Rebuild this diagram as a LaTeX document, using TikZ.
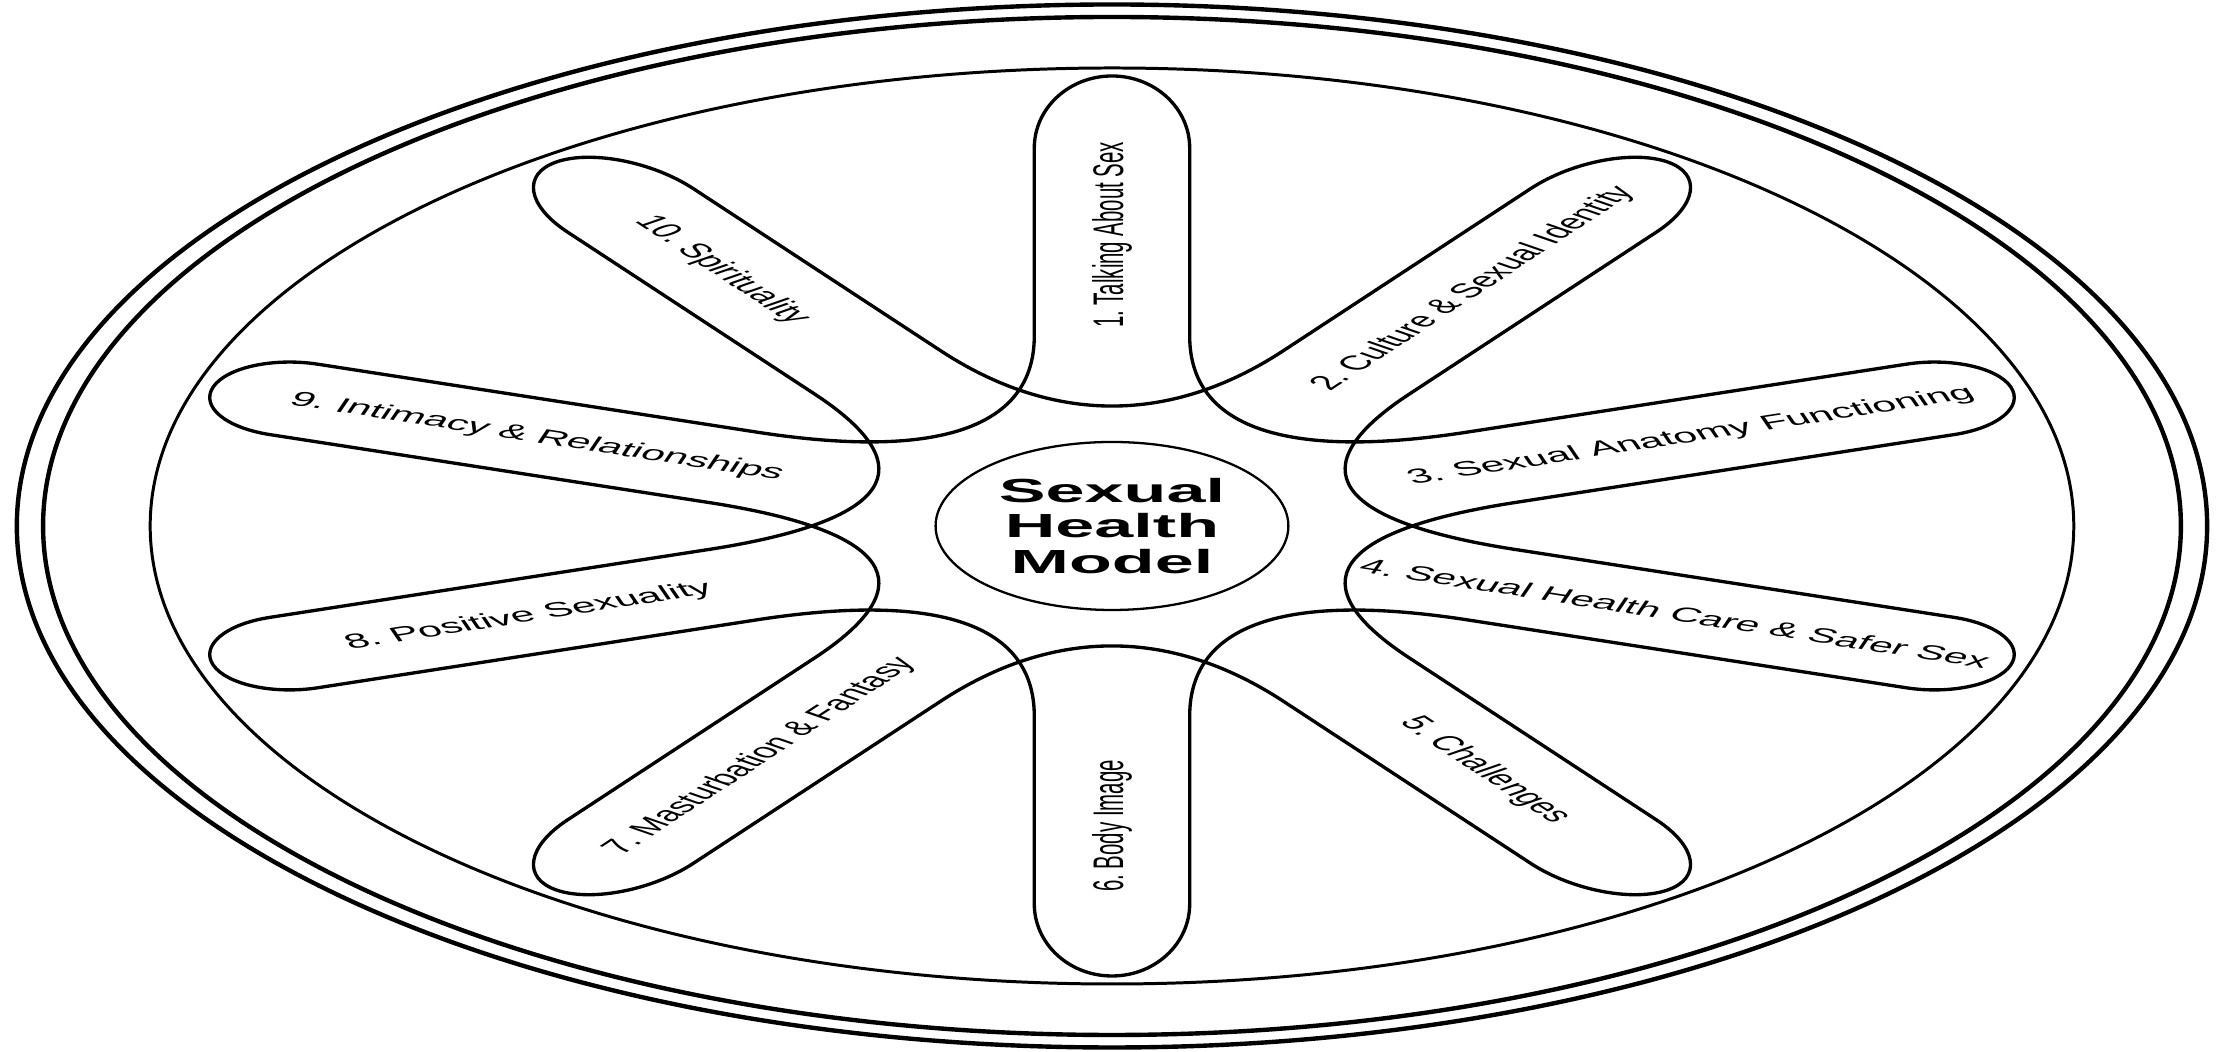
\documentclass[tikz,border=0pt]{standalone}
\usepackage{fontspec}
\setmainfont{Liberation Sans}
\frenchspacing

\tikzset{
    ring/.style={line width=1.25pt},
    rim/.style={line width=0.85pt},
    petal/.style={line width=0.95pt},
    core/.style={draw, circle, line width=0.65pt, minimum size=1.68cm, inner sep=0pt,
        align=center, font=\fontsize{9.5}{10}\selectfont\bfseries},
    tag/.style={inner sep=0pt, font=\fontsize{5.8}{7}\selectfont}
}

\begin{document}
\begin{tikzpicture}
    \useasboundingbox (-11.12,-5.26) rectangle (11.04,5.26);

    \begin{scope}[xscale=2.1, every node/.append style={transform shape}]
        % Rings
        \draw[ring] (0,0) circle (5.215);
        \draw[ring] (0,0) circle (5.09);
        \draw[rim] (0,0) circle (4.58);

        % Two five-lobed flowers
        \foreach \start in {90,54}{
            \draw[petal] ([rotate=\start]1.9,-0.37)
                \foreach \k [evaluate=\k as \a using {\start+72*\k},
                             evaluate=\k as \s using {4.5-(0.37+0.35*sin(\start+72*\k)^2)},
                             evaluate=\k as \c using {4.5-0.4477*(0.37+0.35*sin(\start+72*\k)^2)}] in {0,...,4}{
                    -- ([rotate=\a]\s,-0.37)
                    .. controls ([rotate=\a]\c,-0.37) and ([rotate=\a]4.5,-0.2043) .. ([rotate=\a]4.5,0)
                    .. controls ([rotate=\a]4.5,0.2043) and ([rotate=\a]\c,0.37) .. ([rotate=\a]\s,0.37)
                    -- ([rotate=\a]1.9,0.37)
                    .. controls ([rotate=\a]0.985,0.37) and ([rotate=\a+72]0.985,-0.37) .. ([rotate=\a+72]1.9,-0.37)
                } -- cycle;
        }

        \node (model) [core] at (0,0) {Sexual\\Health\\Model};

        % Labels
        \node (t1) [tag, rotate=90] at (90:2.91) {1. Talking About Sex};
        \node (t2) [tag, rotate=54] at (54:2.93) {2. Culture \& Sexual Identity};
        \node (t3) [tag, rotate=18] at (18:2.9) {3. Sexual Anatomy Functioning};
        \node (t4) [tag, rotate=-18] at (-18:2.82) {4. Sexual Health Care \& Safer Sex};
        \node (t5) [tag, rotate=-54] at (-54:3.02) {5. Challenges};
        \node (t6) [tag, rotate=90] at (-90:3.0) {6. Body Image};
        \node (t7) [tag, rotate=54] at (-126:2.85) {7. Masturbation \& Fantasy};
        \node (t8) [tag, rotate=18] at (-162:2.92) {8. Positive Sexuality};
        \node (t9) [tag, rotate=-18] at (162:2.88) {9. Intimacy \& Relationships};
        \node (t10) [tag, rotate=-54] at (126:3.16) {10. Spirituality};
    \end{scope}
\end{tikzpicture}
\end{document}
